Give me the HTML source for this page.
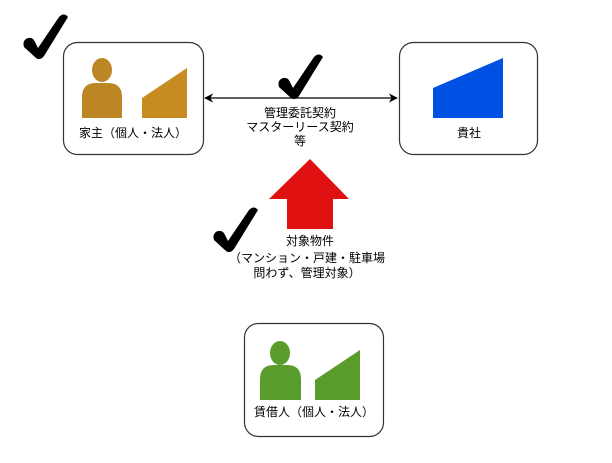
<!DOCTYPE html>
<html><head><meta charset="utf-8">
<style>
html,body{margin:0;padding:0;background:#fff;}
svg{display:block;}
text{font-family:"Liberation Sans","Noto Sans CJK JP",sans-serif;font-size:12px;fill:#000;}
</style></head>
<body>
<svg width="612" height="463" viewBox="0 0 612 463" xmlns="http://www.w3.org/2000/svg">
<defs>
<marker id="ah" viewBox="0 0 10 10" refX="9" refY="5" markerWidth="9" markerHeight="9" orient="auto-start-reverse" markerUnits="userSpaceOnUse">
<path d="M0,0 L10,5 L0,10 L3,5 Z" fill="#000"/>
</marker>
<path id="chk" d="M-1,1 L-13,-10 Q-15,-17 -9,-19 Q-4,-20 -2,-15 L1,-9 L22,-40 Q27,-45 31,-40 L7,-1 Q3,4 -1,1 Z" fill="#000"/>
</defs>

<!-- Box 1 -->
<rect x="63.5" y="42.5" width="140" height="112" rx="14" fill="#fff" stroke="#333" stroke-width="1.2"/>
<ellipse cx="102" cy="70" rx="10" ry="12" fill="#bd8624"/>
<path d="M82,118 L82,97 Q82,83 96,83 L108,83 Q122,83 122,97 L122,118 Z" fill="#bd8624"/>
<path d="M142,98 L187,68 L187,118 L142,118 Z" fill="#c68c22"/>
<text x="133" y="137" text-anchor="middle">家主（個人・法人）</text>

<!-- Box 2 -->
<rect x="399.5" y="42.5" width="138" height="112" rx="14" fill="#fff" stroke="#333" stroke-width="1.2"/>
<path d="M433,88 L503,58 L503,118 L433,118 Z" fill="#0050e3"/>
<text x="469" y="137" text-anchor="middle">貴社</text>

<!-- Arrow -->
<line x1="205" y1="98" x2="397" y2="98" stroke="#000" stroke-width="1.2" marker-start="url(#ah)" marker-end="url(#ah)"/>
<text x="300" y="117" text-anchor="middle">管理委託契約</text>
<text x="300" y="131" text-anchor="middle">マスターリース契約</text>
<text x="300" y="145" text-anchor="middle">等</text>

<!-- Red arrow -->
<path d="M310,159 L349,199 L333,199 L333,229 L287,229 L287,199 L269,199 Z" fill="#df1111"/>
<text x="310" y="245" text-anchor="middle">対象物件</text>
<text x="307" y="262" text-anchor="middle">（マンション・戸建・駐車場</text>
<text x="307" y="277" text-anchor="middle">問わず、管理対象）</text>

<!-- Box 3 -->
<rect x="244.5" y="323.5" width="139" height="113" rx="14" fill="#fff" stroke="#333" stroke-width="1.2"/>
<ellipse cx="280" cy="353" rx="10" ry="12" fill="#5a9c2c"/>
<path d="M260,400 L260,379 Q260,365 274,365 L287,365 Q301,365 301,379 L301,400 Z" fill="#5a9c2c"/>
<path d="M315,380 L360,350 L360,400 L315,400 Z" fill="#5a9c2c"/>
<text x="314" y="416" text-anchor="middle">賃借人（個人・法人）</text>

<!-- Checkmarks -->
<use href="#chk" x="37" y="57"/>
<use href="#chk" x="292" y="97"/>
<use href="#chk" x="227" y="250"/>
</svg>
</body></html>
